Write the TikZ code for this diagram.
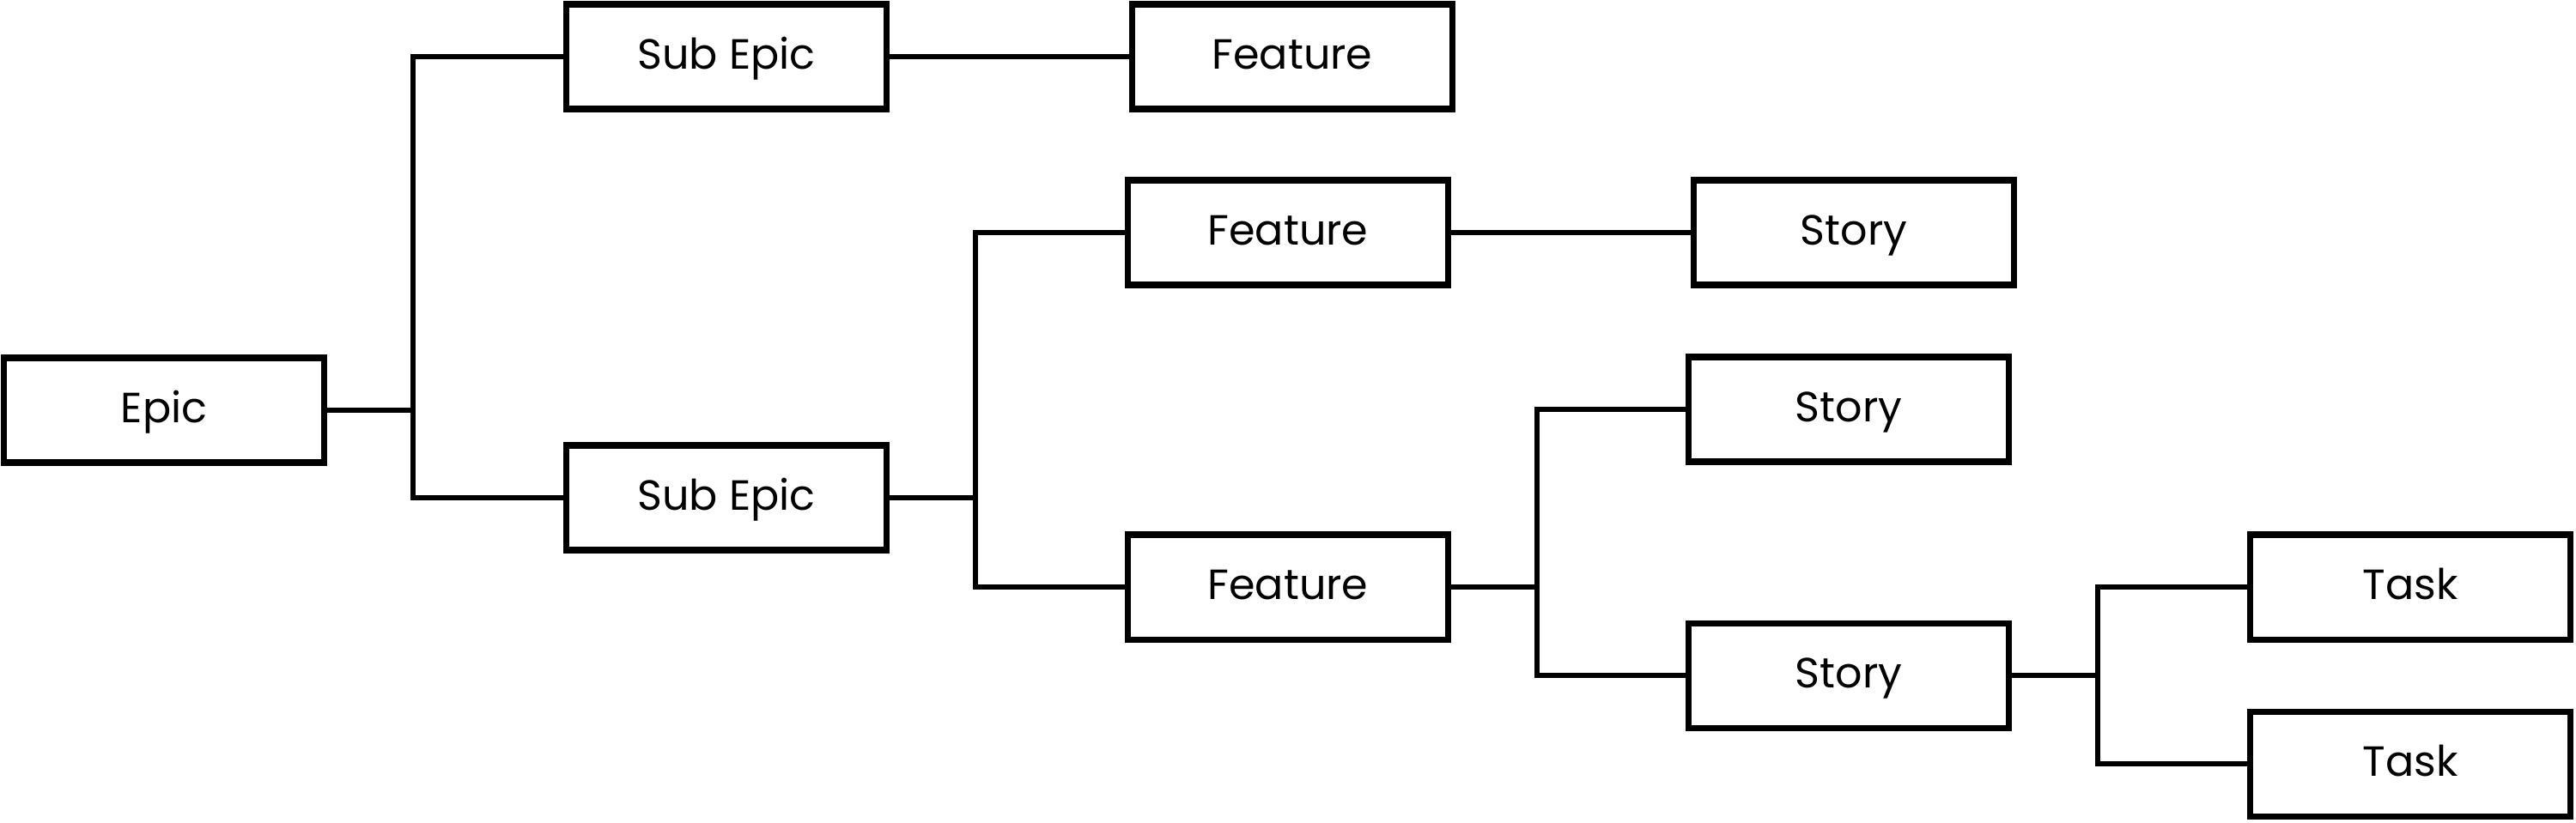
\documentclass[tikz,border=0pt]{standalone}
\usepackage{fontspec}
\setmainfont{Poppins}
\usetikzlibrary{positioning}

\begin{document}
\begin{tikzpicture}[
    node distance=2.79cm,
    itembox/.style={
        draw,
        line width=2pt,
        align=center,
        font=\fontsize{14}{16}\selectfont,
        text height=1.5ex,
        text depth=0ex,
        minimum width=3.73cm,
        minimum height=1.22cm,
        inner sep=3pt
    },
    linkline/.style={line width=1.6pt}
]
\useasboundingbox (0,0) rectangle (30,-9.58);

\node[itembox] (epic) at (1.91,-4.78) {Epic};
\node[itembox] (subA) at (8.46,-0.66) {Sub Epic};
\node[itembox, right=of subA] (featA) {Feature};
\node[itembox] (subB) at (8.46,-5.80) {Sub Epic};
\node[itembox] (featB) at (15.00,-2.71) {Feature};
\node[itembox, right=of featB] (storyA) {Story};
\node[itembox] (featC) at (15.00,-6.84) {Feature};
\node[itembox] (storyB) at (21.53,-4.77) {Story};
\node[itembox] (storyC) at (21.53,-7.87) {Story};
\node[itembox] (taskA) at (28.07,-6.84) {Task};
\node[itembox] (taskB) at (28.07,-8.90) {Task};

\draw[linkline] (epic.east) -- ++(1.0,0) |- (subA.west);
\draw[linkline] (epic.east) -- ++(1.0,0) |- (subB.west);
\draw[linkline] (subA) -- (featA);
\draw[linkline] (subB.east) -- ++(1.0,0) |- (featB.west);
\draw[linkline] (subB.east) -- ++(1.0,0) |- (featC.west);
\draw[linkline] (featB) -- (storyA);
\draw[linkline] (featC.east) -- ++(1.0,0) |- (storyB.west);
\draw[linkline] (featC.east) -- ++(1.0,0) |- (storyC.west);
\draw[linkline] (storyC.east) -- ++(1.0,0) |- (taskA.west);
\draw[linkline] (storyC.east) -- ++(1.0,0) |- (taskB.west);
\end{tikzpicture}
\end{document}
